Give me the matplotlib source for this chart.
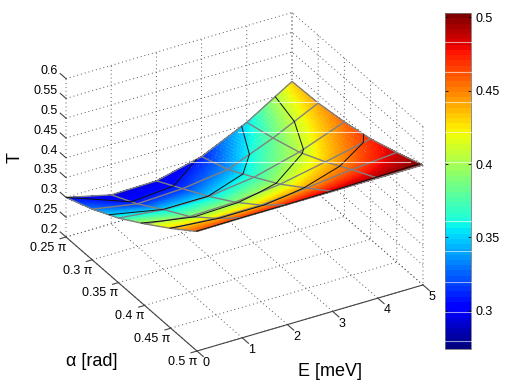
import matplotlib
matplotlib.use('Agg')
import matplotlib.pyplot as plt
import numpy as np
from matplotlib.colors import Normalize
from matplotlib.cm import ScalarMappable
from matplotlib.lines import Line2D
from matplotlib.ticker import NullFormatter
from mpl_toolkits.mplot3d import proj3d

W, H = 508, 385

# data
energy = [0, 1, 2, 3, 4, 5]
alpha = [0.25, 0.30, 0.35, 0.40, 0.45, 0.50]
t_025 = [0.300, 0.273, 0.275, 0.303, 0.356, 0.426]
t_030 = [0.328, 0.308, 0.313, 0.328, 0.374, 0.429]
t_035 = [0.363, 0.351, 0.351, 0.366, 0.396, 0.439]
t_040 = [0.406, 0.391, 0.394, 0.406, 0.429, 0.454]
t_045 = [0.452, 0.444, 0.444, 0.454, 0.467, 0.477]
t_050 = [0.502, 0.503, 0.503, 0.503, 0.503, 0.503]
# colour values as seen on the surface, they differ a bit from the height
c_025 = [0.305, 0.292, 0.292, 0.310, 0.356, 0.435]
c_030 = [0.328, 0.310, 0.315, 0.338, 0.385, 0.445]
c_035 = [0.363, 0.351, 0.351, 0.370, 0.408, 0.460]
c_040 = [0.406, 0.391, 0.394, 0.406, 0.435, 0.475]
c_045 = [0.430, 0.432, 0.436, 0.445, 0.462, 0.490]
c_050 = [0.462, 0.470, 0.478, 0.490, 0.497, 0.503]
t_levels = [0.30, 0.35, 0.40, 0.45, 0.50]
t_min, t_max = 0.274, 0.503

z_ticks = [0.2, 0.25, 0.3, 0.35, 0.4, 0.45, 0.5, 0.55, 0.6]
z_labels = ['0.2', '0.25', '0.3', '0.35', '0.4', '0.45', '0.5', '0.55', '0.6']
alpha_labels = ['0.25 π', '0.3 π', '0.35 π', '0.4 π', '0.45 π', '0.5 π']
cbar_ticks = [0.3, 0.35, 0.4, 0.45, 0.5]

# white scan lines in the source image: row, x from, x to (pixels)
surface_rows = [(102, 272, 318), (132, 238, 375), (162, 190, 410)]
cbar_rows = [42, 72, 102, 132, 162, 221, 251, 282, 312, 341]

plt.rcParams['font.family'] = ['Liberation Sans', 'DejaVu Sans']
plt.rcParams['font.size'] = 9
plt.rcParams['grid.linestyle'] = (0, (1, 3))
plt.rcParams['grid.linewidth'] = 0.7
plt.rcParams['grid.color'] = '#555555'


def px(x, y):
    return x / W, 1 - y / H


T = np.array([t_025, t_030, t_035, t_040, t_045, t_050])
C = np.array([c_025, c_030, c_035, c_040, c_045, c_050])
E, A = np.meshgrid(energy, alpha)

# finer copy of the mesh, only so the colours run smoothly (shading interp)
n = 16
idx = np.arange(6)
idx_f = np.linspace(0, 5, 5 * n + 1)


def fine(M):
    M = np.array([np.interp(idx_f, idx, row) for row in M])
    return np.array([np.interp(idx_f, idx, col) for col in M.T]).T


T_fine = fine(T)
C_fine = fine(C)
E_f, A_f = np.meshgrid(np.interp(idx_f, idx, energy), np.interp(idx_f, idx, alpha))

fig = plt.figure(figsize=(W / 100, H / 100), dpi=100)
ax = fig.add_axes([0, 0, 1, 1], projection='3d', proj_type='ortho', computed_zorder=False)
ax.view_init(elev=30.3, azim=-120.1)
aspect = (262, 262, 184)
ax.set_box_aspect(aspect)
ax.set_xlim(0, 5, view_margin=0)
ax.set_ylim(0.5, 0.25, view_margin=0)
ax.set_zlim(0.2, 0.6, view_margin=0)
ax.patch.set_alpha(0)

cmap = plt.get_cmap('jet', 64)
norm = Normalize(t_min, t_max)
face = plt.get_cmap('jet')(norm(C_fine))
face[..., 3] = 0.86  # grid dots show through the surface
ax.plot_surface(E_f, A_f, T_fine, facecolors=face, rstride=1, cstride=1,
                linewidth=0, antialiased=False, shade=False, zorder=1)
ax.plot_wireframe(E, A, T, color='#808080', linewidth=1.0, zorder=2)
ax.contour(E, A, T, levels=t_levels, colors='#101010', linewidths=0.7, zorder=3)

# axes: dotted grid on back walls, ticks and labels by hand like the matlab box
ax.set_xticks(energy)
ax.set_yticks(alpha)
ax.set_zticks(z_ticks)
for axis in (ax.xaxis, ax.yaxis, ax.zaxis):
    axis.set_major_formatter(NullFormatter())
    axis.set_pane_color((1, 1, 1, 0))
    axis.pane.set_edgecolor('none')
    axis.line.set_color((0, 0, 0, 0))
    axis._axinfo['tick']['inward_factor'] = 0
    axis._axinfo['tick']['outward_factor'] = 0

axis_kw = dict(color='#444444', linewidth=0.8, zorder=0)
ax.plot([0, 5], [0.5, 0.5], [0.2, 0.2], **axis_kw)
ax.plot([0, 0], [0.25, 0.5], [0.2, 0.2], **axis_kw)

for e in energy:
    ax.plot([e, e], [0.5, 0.5 + 0.012], [0.2, 0.2], **axis_kw)
for a in alpha:
    ax.plot([0, -0.13], [a, a], [0.2, 0.2], **axis_kw)
for z in z_ticks:
    ax.plot([0, 0], [0.25, 0.25 - 0.011], [z, z], **axis_kw)

# fit the box onto the pixel positions of the reference
fig.canvas.draw()


def corner(x, y, z):
    xs, ys, _ = proj3d.proj_transform(x, y, z, ax.M)
    return xs, ys


p0 = ax.transData.transform(corner(0, 0.25, 0.2))
p1 = ax.transData.transform(corner(5, 0.5, 0.2))
ax.set_box_aspect(aspect, zoom=(423 - 66) / (p1[0] - p0[0]))
fig.canvas.draw()
p0 = ax.transData.transform(corner(0, 0.25, 0.2))
ax.set_position([(66 - p0[0]) / W, ((H - 237) - p0[1]) / H, 1, 1])
fig.canvas.draw()

# tick labels go in as 2d text at the projected spot
for e in energy:
    ax.text2D(*corner(e, 0.518, 0.19), str(e), transform=ax.transData, ha='center', va='center')
for a, lab in zip(alpha, alpha_labels):
    ax.text2D(*corner(0, a, 0.2 - 0.0275), lab, transform=ax.transData, ha='right', va='center')
for z, lab in zip(z_ticks, z_labels):
    ax.text2D(*corner(0, 0.25 - 0.016, z), lab, transform=ax.transData, ha='right', va='center')

fig.text(*px(15, 158), 'T', rotation=90, ha='center', va='center', fontsize=13)
fig.text(*px(92, 362), 'α [rad]', ha='center', va='center', fontsize=13)
fig.text(*px(330, 372), 'E [meV]', ha='center', va='center', fontsize=13)

for row, x0, x1 in surface_rows:
    fig.add_artist(Line2D([x0 / W, x1 / W], [1 - row / H] * 2, color='white', lw=0.8, alpha=0.7))

# colorbar
cax = fig.add_axes([445 / W, 1 - 349 / H, 26 / W, 336 / H])
cb = fig.colorbar(ScalarMappable(norm=norm, cmap=cmap), cax=cax, ticks=cbar_ticks)
cb.ax.set_yticklabels(['0.3', '0.35', '0.4', '0.45', '0.5'])
cb.ax.tick_params(direction='in', left=True, right=True, length=2, width=0.6, pad=3, labelsize=9)
cb.outline.set_edgecolor('#777777')
cb.outline.set_linewidth(0.6)
for row in cbar_rows:
    fig.add_artist(Line2D([445 / W, 471 / W], [1 - row / H] * 2, color='white', lw=0.8, alpha=0.6))

fig.savefig('out.png', dpi=100)
